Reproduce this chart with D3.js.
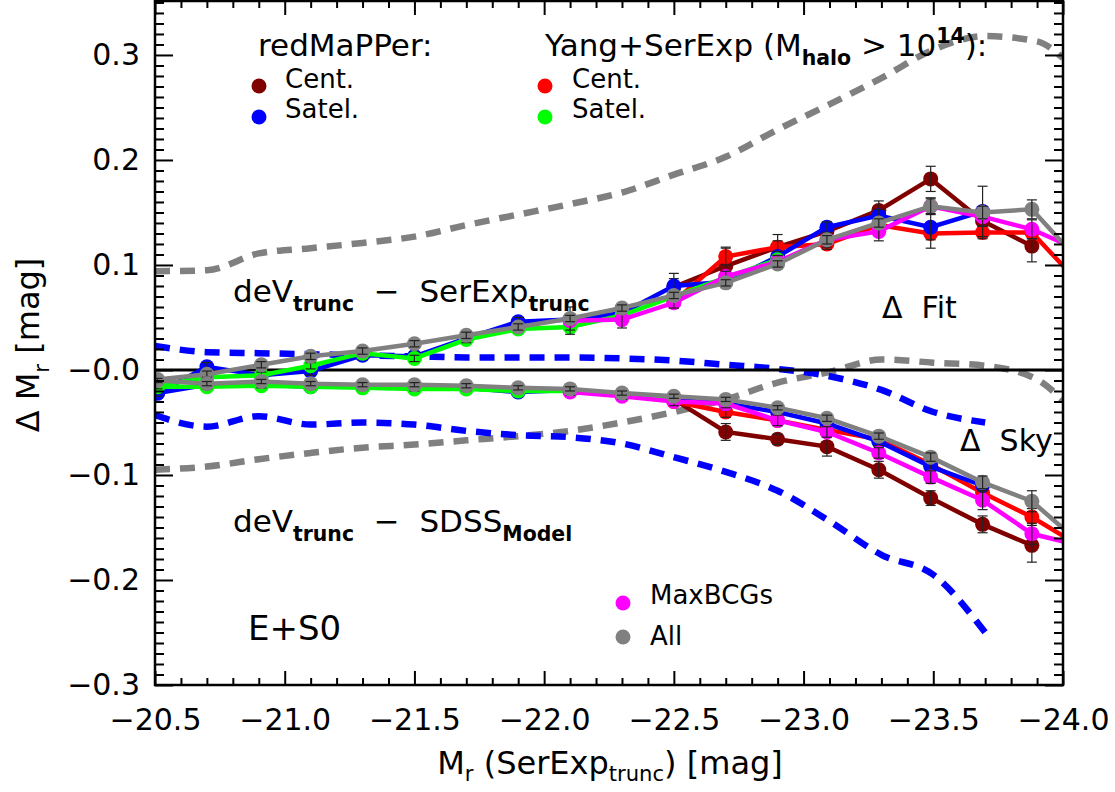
<!DOCTYPE html>
<html>
<head>
<style type="text/css">
    body { margin: 0; background: #fff; }
    svg text { font-family: "DejaVu Sans", sans-serif; fill: #000; }
</style>
</head>
<body>
<svg width="1115" height="792"></svg>
<script src="https://d3js.org/d3.v7.min.js"></script>
<script>
// magnitude bin centres of the points
var mag = [-20.51, -20.70, -20.91, -21.10, -21.30, -21.50, -21.70, -21.90, -22.10, -22.30,
           -22.50, -22.70, -22.90, -23.09, -23.29, -23.49, -23.69, -23.88, -24.08];

// deV_trunc - SerExp_trunc  (upper group)
var fitRmCen   = [null, null, null, null, null, null, null, null, null, null, 0.079, 0.099, 0.117, 0.132, 0.152, 0.182, 0.142, 0.118, null];
var fitRmSat   = [-0.022, 0.003, -0.005, -0.001, 0.014, 0.013, 0.030, 0.046, 0.048, 0.054, 0.080, 0.084, 0.108, 0.136, 0.147, 0.136, 0.151, null, null];
var fitYangCen = [null, null, null, null, null, null, null, null, null, null, 0.065, 0.108, 0.117, 0.120, 0.138, 0.130, 0.131, 0.131, 0.078];
var fitYangSat = [-0.015, -0.007, -0.005, 0.004, 0.016, 0.011, 0.029, 0.039, 0.041, 0.052, 0.070, 0.088, 0.105, null, null, null, null, null, null];
var fitMax     = [null, null, null, null, null, null, null, null, 0.047, 0.048, 0.064, 0.089, 0.103, 0.124, 0.132, 0.156, 0.146, 0.134, 0.112];
var fitAll     = [-0.009, -0.004, 0.005, 0.013, 0.018, 0.025, 0.033, 0.041, 0.049, 0.059, 0.071, 0.083, 0.101, 0.124, 0.140, 0.156, 0.150, 0.153, 0.099];

var fitRmCenErr   = [null, null, null, null, null, null, null, null, null, null, 0.008, 0.018, 0.012, 0.006, 0.009, 0.012, 0.010, 0.015, null];
var fitRmSatErr   = [0.004, 0.004, 0.004, 0.004, 0.004, 0.004, 0.004, 0.004, 0.004, 0.004, 0.012, 0.005, 0.005, 0.005, 0.006, 0.020, 0.024, null, null];
var fitYangCenErr = [null, null, null, null, null, null, null, null, null, null, 0.006, 0.008, 0.006, 0.005, 0.006, 0.006, 0.006, 0.006, null];
var fitYangSatErr = [0.003, 0.003, 0.003, 0.003, 0.003, 0.003, 0.003, 0.003, 0.003, 0.003, 0.003, 0.004, 0.004, null, null, null, null, null, null];
var fitMaxErr     = [null, null, null, null, null, null, null, null, 0.013, 0.008, 0.005, 0.005, 0.006, 0.007, 0.009, 0.008, 0.009, 0.009, null];
var fitAllErr     = [0.003, 0.003, 0.003, 0.003, 0.003, 0.003, 0.003, 0.003, 0.003, 0.003, 0.003, 0.003, 0.003, 0.004, 0.004, 0.007, 0.006, 0.009, null];

// deV_trunc - SDSS_Model  (lower group)
var modRmCen   = [null, null, null, null, null, null, null, null, null, null, -0.028, -0.059, -0.066, -0.073, -0.095, -0.122, -0.147, -0.167, null];
var modRmSat   = [-0.022, -0.014, -0.014, -0.016, -0.016, -0.017, -0.017, -0.021, -0.019, -0.023, -0.027, -0.032, -0.040, -0.051, -0.068, -0.092, -0.110, null, null];
var modYangCen = [null, null, null, null, null, null, null, null, null, null, -0.030, -0.040, -0.048, -0.057, -0.066, -0.090, -0.117, -0.140, -0.170];
var modYangSat = [-0.016, -0.016, -0.015, -0.016, -0.017, -0.018, -0.018, -0.020, -0.020, -0.024, -0.027, null, null, null, null, null, null, null, null];
var modMax     = [null, null, null, null, null, null, null, null, -0.021, -0.025, -0.030, -0.032, -0.048, -0.059, -0.079, -0.102, -0.124, -0.156, -0.168];
var modAll     = [-0.010, -0.013, -0.011, -0.013, -0.014, -0.014, -0.015, -0.017, -0.018, -0.022, -0.025, -0.028, -0.036, -0.046, -0.063, -0.083, -0.107, -0.125, -0.168];

var modRmCenErr   = [null, null, null, null, null, null, null, null, null, null, 0.004, 0.008, 0.005, 0.009, 0.008, 0.007, 0.008, 0.016, null];
var modRmSatErr   = [0.003, 0.003, 0.003, 0.003, 0.003, 0.003, 0.003, 0.003, 0.003, 0.003, 0.003, 0.003, 0.003, 0.004, 0.004, 0.005, 0.005, null, null];
var modYangCenErr = [null, null, null, null, null, null, null, null, null, null, 0.004, 0.005, 0.005, 0.005, 0.005, 0.006, 0.007, 0.008, null];
var modYangSatErr = [0.002, 0.002, 0.002, 0.002, 0.002, 0.002, 0.002, 0.002, 0.002, 0.002, 0.002, null, null, null, null, null, null, null, null];
var modMaxErr     = [null, null, null, null, null, null, null, null, 0.003, 0.003, 0.004, 0.004, 0.005, 0.005, 0.005, 0.006, 0.009, 0.010, null];
var modAllErr     = [0.002, 0.002, 0.002, 0.002, 0.002, 0.002, 0.002, 0.002, 0.002, 0.002, 0.002, 0.002, 0.002, 0.003, 0.003, 0.004, 0.006, 0.010, null];

// dashed envelopes (Delta Fit in grey, Delta Sky in blue)
var dashMag    = [-20.5, -20.7, -20.9, -21.1, -21.3, -21.5, -21.7, -21.9, -22.1, -22.3,
                  -22.5, -22.7, -22.9, -23.1, -23.3, -23.5, -23.7, -23.9, -24.0];
var fitBandHi  = [0.094, 0.095, 0.111, 0.116, 0.121, 0.127, 0.138, 0.148, 0.158, 0.169, 0.186, 0.203, 0.229, 0.253, 0.278, 0.305, 0.318, 0.313, 0.297];
var fitBandLo  = [-0.095, -0.092, -0.085, -0.079, -0.074, -0.071, -0.067, -0.063, -0.058, -0.050, -0.040, -0.028, -0.012, -0.002, 0.010, 0.007, 0.004, -0.009, -0.029];
var skyBandHi  = [0.023, 0.017, 0.016, 0.015, 0.014, 0.013, 0.012, 0.012, 0.012, 0.011, 0.009, 0.005, 0.001, -0.006, -0.019, -0.040, -0.050, null, null];
var skyBandLo  = [-0.043, -0.054, -0.044, -0.052, -0.050, -0.052, -0.058, -0.062, -0.064, -0.070, -0.083, -0.097, -0.115, -0.144, -0.176, -0.195, -0.250, null, null];

// ticks
var xMajor = [-20.5, -21.0, -21.5, -22.0, -22.5, -23.0, -23.5, -24.0];
var xTickLabels = ["\u221220.5", "\u221221.0", "\u221221.5", "\u221222.0", "\u221222.5", "\u221223.0", "\u221223.5", "\u221224.0"];
var yMajor = [-0.3, -0.2, -0.1, 0.0, 0.1, 0.2, 0.3];
var yTickLabels = ["\u22120.3", "\u22120.2", "\u22120.1", "\u22120.0", "0.1", "0.2", "0.3"];

var svg = d3.select("svg"),
    plotLeft = 155,
    plotTop = 1,
    width = 908,
    height = 684,
    g = svg.append("g").attr("transform", "translate(" + plotLeft + "," + plotTop + ")");

var x = d3.scaleLinear().domain([-20.5, -24.0]).range([0, width]);
var y = d3.scaleLinear().domain([-0.3, 0.3514]).range([height, 0]);

g.append("defs").append("clipPath").attr("id", "plotclip")
    .append("rect").attr("width", width).attr("height", height);
var plot = g.append("g").attr("clip-path", "url(#plotclip)");

// dashed curves first, they sit behind the points
var dashLine = d3.line()
    .defined(function (d) { return d[1] !== null; })
    .curve(d3.curveMonotoneX)
    .x(function (d) { return x(d[0]); })
    .y(function (d) { return y(d[1]); });

function drawDashed(vals, color) {
    plot.append("path").datum(d3.zip(dashMag, vals))
        .attr("fill", "none").attr("stroke", color)
        .attr("stroke-width", 6.5).attr("stroke-dasharray", "15,10")
        .attr("d", dashLine);
}
drawDashed(fitBandHi, "#808080");
drawDashed(fitBandLo, "#808080");
drawDashed(skyBandHi, "#0000ff");
drawDashed(skyBandLo, "#0000ff");

// zero line
plot.append("line").attr("x1", 0).attr("x2", width).attr("y1", y(0)).attr("y2", y(0))
    .attr("stroke", "#000").attr("stroke-width", 3);

var solidLine = d3.line()
    .defined(function (d) { return d[1] !== null; })
    .x(function (d) { return x(d[0]); })
    .y(function (d) { return y(d[1]); });

function drawSeries(vals, errs, color) {
    var pts = d3.zip(mag, vals, errs);
    plot.append("path").datum(pts)
        .attr("fill", "none").attr("stroke", color).attr("stroke-width", 4.5)
        .attr("d", solidLine);
    var ok = pts.filter(function (d) { return d[1] !== null; });
    plot.append("g").selectAll("circle").data(ok).enter().append("circle")
        .attr("cx", function (d) { return x(d[0]); })
        .attr("cy", function (d) { return y(d[1]); })
        .attr("r", 7.5).attr("fill", color);
    var eb = plot.append("g").attr("stroke", "#222").attr("stroke-width", 1.2)
        .selectAll("g").data(ok.filter(function (d) { return d[2] !== null; })).enter().append("g");
    eb.append("line")
        .attr("x1", function (d) { return x(d[0]); }).attr("x2", function (d) { return x(d[0]); })
        .attr("y1", function (d) { return y(d[1] - d[2]); }).attr("y2", function (d) { return y(d[1] + d[2]); });
    [-1, 1].forEach(function (s) {
        eb.append("line")
            .attr("x1", function (d) { return x(d[0]) - 5; }).attr("x2", function (d) { return x(d[0]) + 5; })
            .attr("y1", function (d) { return y(d[1] + s * d[2]); }).attr("y2", function (d) { return y(d[1] + s * d[2]); });
    });
}

drawSeries(fitRmCen, fitRmCenErr, "#800000");
drawSeries(fitYangCen, fitYangCenErr, "#ff0000");
drawSeries(fitRmSat, fitRmSatErr, "#0000ff");
drawSeries(fitYangSat, fitYangSatErr, "#00ff00");
drawSeries(fitMax, fitMaxErr, "#ff00ff");
drawSeries(fitAll, fitAllErr, "#808080");

drawSeries(modRmCen, modRmCenErr, "#800000");
drawSeries(modYangCen, modYangCenErr, "#ff0000");
drawSeries(modRmSat, modRmSatErr, "#0000ff");
drawSeries(modYangSat, modYangSatErr, "#00ff00");
drawSeries(modMax, modMaxErr, "#ff00ff");
drawSeries(modAll, modAllErr, "#808080");

// axes, ticks point inward on all four sides (IDL style)
var xMinor = d3.range(-20.5, -24.05, -0.1).filter(function (v) { return Math.abs(v * 2 - Math.round(v * 2)) > 0.01; });
var yMinor = d3.range(-0.3, 0.351, 0.01).filter(function (v) { return Math.abs(v * 10 - Math.round(v * 10)) > 0.01; });

function addAxis(axis, tr) {
    var a = g.append("g").attr("transform", tr).call(axis);
    a.select(".domain").remove();
    a.selectAll("line").attr("stroke-width", 2);
    a.attr("font-family", null).attr("font-size", 30);
    return a;
}

addAxis(d3.axisBottom(x).tickValues(xMajor).tickSize(-14).tickPadding(24)
    .tickFormat(function (d, i) { return xTickLabels[i]; }), "translate(0," + height + ")");
addAxis(d3.axisBottom(x).tickValues(xMinor).tickSize(-7).tickFormat(""), "translate(0," + height + ")");
addAxis(d3.axisTop(x).tickValues(xMajor).tickSize(-14).tickFormat(""), "translate(0,0)");
addAxis(d3.axisTop(x).tickValues(xMinor).tickSize(-7).tickFormat(""), "translate(0,0)");
addAxis(d3.axisLeft(y).tickValues(yMajor).tickSize(-18).tickPadding(15)
    .tickFormat(function (d, i) { return yTickLabels[i]; }), "translate(0,0)");
addAxis(d3.axisLeft(y).tickValues(yMinor).tickSize(-9).tickFormat(""), "translate(0,0)");
addAxis(d3.axisRight(y).tickValues(yMajor).tickSize(-18).tickFormat(""), "translate(" + width + ",0)");
addAxis(d3.axisRight(y).tickValues(yMinor).tickSize(-9).tickFormat(""), "translate(" + width + ",0)");

g.append("rect").attr("width", width).attr("height", height)
    .attr("fill", "none").attr("stroke", "#000").attr("stroke-width", 2.5);

// text with sub / superscripts
function richText(px, py, parts, size, subBold, rotate, subDrop) {
    var t = svg.append("text").attr("x", px).attr("y", py).attr("font-size", size)
        .attr("xml:space", "preserve").style("white-space", "pre");
    if (rotate) t.attr("transform", "rotate(-90," + px + "," + py + ")").attr("text-anchor", "middle");
    var drop = subDrop || 0.3;
    var shift = 0;
    parts.forEach(function (p) {
        var off = p[1] === "sub" ? size * drop : (p[1] === "sup" ? -size * 0.42 : 0);
        var s = t.append("tspan").attr("dy", off - shift).text(p[0]);
        shift = off;
        if (p[1]) {
            s.attr("font-size", size * 0.66);
            if (subBold) s.attr("font-weight", "bold");
        }
    });
    return t;
}

richText(258, 56, [["redMaPPer:"]], 31);
richText(545, 56, [["Yang+SerExp (M"], ["halo", "sub"], [" > 10"], ["14", "sup"], ["):"]], 31, true);
richText(285, 88, [["Cent."]], 26);
richText(285, 118, [["Satel."]], 26);
richText(572, 88, [["Cent."]], 26);
richText(572, 118, [["Satel."]], 26);
richText(650, 604, [["MaxBCGs"]], 26);
richText(650, 645, [["All"]], 26);

var legendDots = [[259, 86, "#800000"], [259, 117, "#0000ff"], [545, 86, "#ff0000"], [545, 117, "#00ff00"],
                  [623, 603, "#ff00ff"], [623, 637, "#808080"]];
svg.append("g").selectAll("circle").data(legendDots).enter().append("circle")
    .attr("cx", function (d) { return d[0]; }).attr("cy", function (d) { return d[1]; })
    .attr("r", 7.5).attr("fill", function (d) { return d[2]; });

richText(233, 302, [["deV"], ["trunc", "sub"], ["  \u2212  SerExp"], ["trunc", "sub"]], 31, true);
richText(233, 532, [["deV"], ["trunc", "sub"], ["  \u2212  SDSS"], ["Model", "sub"]], 31, true);
richText(882, 318, [["\u0394  Fit"]], 30);
richText(960, 451, [["\u0394  Sky"]], 30);
richText(248, 640, [["E+S0"]], 34);

// axis titles
richText(610, 774, [["M"], ["r", "sub"], [" (SerExp"], ["trunc", "sub"], [") [mag]"]], 32, false, false, 0.22)
    .attr("text-anchor", "middle");
richText(39, 345, [["\u0394 M"], ["r", "sub"], [" [mag]"]], 32, false, true);
</script>
</body>
</html>
